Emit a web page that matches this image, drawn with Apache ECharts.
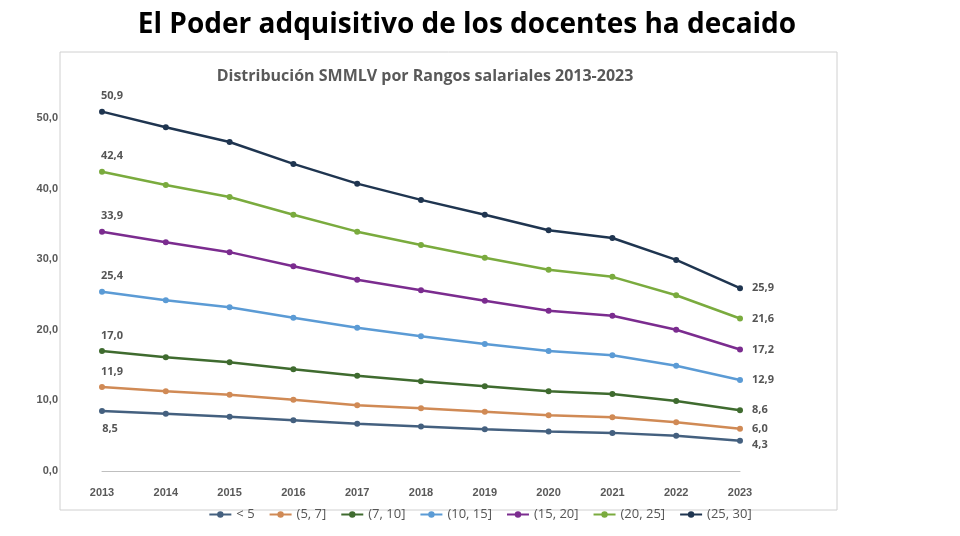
<!DOCTYPE html>
<html><head><meta charset="utf-8">
<script src="https://cdn.jsdelivr.net/npm/echarts@6/dist/echarts.min.js"></script>
<style>html,body{margin:0;background:#fff}#c{width:960px;height:536px}</style>
</head><body><div id="c"></div>
<script>
const years = ['2013','2014','2015','2016','2017','2018','2019','2020','2021','2022','2023'];
const names = ['< 5','(5, 7]','(7, 10]','(10, 15]','(15, 20]','(20, 25]','(25, 30]'];
const colors = ['#44607f','#d08a55','#3f6b2f','#5b9bd5','#7b2c8f','#7aab3e','#1f3550'];
const lt5   = [8.5,8.1,7.7,7.2,6.7,6.3,5.9,5.6,5.4,5.0,4.3];
const r5_7  = [11.9,11.3,10.8,10.1,9.3,8.9,8.4,7.9,7.6,6.9,6.0];
const r7_10 = [17.0,16.1,15.4,14.4,13.5,12.7,12.0,11.3,10.9,9.9,8.6];
const r10_15= [25.4,24.2,23.2,21.7,20.3,19.1,18.0,17.0,16.4,14.9,12.9];
const r15_20= [33.9,32.4,31.0,29.0,27.1,25.6,24.1,22.7,22.0,20.0,17.2];
const r20_25= [42.4,40.5,38.8,36.3,33.9,32.0,30.2,28.5,27.5,24.9,21.6];
const r25_30= [50.9,48.7,46.6,43.5,40.7,38.4,36.3,34.1,33.0,29.9,25.9];
const all = [lt5,r5_7,r7_10,r10_15,r15_20,r20_25,r25_30];
const fmt = v => v.toFixed(1).replace('.',',');
const series = all.map((arr,si)=>({
  name: names[si], type:'line', symbol:'circle', symbolSize:6, clip:false,
  lineStyle:{width:2.5}, itemStyle:{color:colors[si]},
  data: arr.map((v,i)=>{
    if(i===0) return {value:v,label:{show:true,position: si===0?'bottom':'top',offset: si===0?[8,4]:[10,-2],formatter:fmt(v)}};
    if(i===arr.length-1) return {value:v,label:{show:true,position:'right',offset: si===0?[4,4]:[4,0],formatter:fmt(v)}};
    return v;
  }),
  label:{color:'#555',fontWeight:'bold',fontSize:11,fontFamily:'Open Sans'}
}));
const chart = echarts.init(document.getElementById('c'));
chart.setOption({
  animation:false,
  color:colors,
  title:[
    {text:'El Poder adquisitivo de los docentes ha decaido',left:462,top:6,textAlign:'center',
     textStyle:{fontSize:28,fontWeight:'bold',color:'#000',fontFamily:'Open Sans'}},
    {text:'Distribución SMMLV por Rangos salariales 2013-2023',left:420,top:63,textAlign:'center',
     textStyle:{fontSize:16,fontWeight:'bold',color:'#595959',fontFamily:'Open Sans'}}
  ],
  graphic:[{type:'rect',shape:{x:60,y:52,width:777,height:458},style:{fill:'none',stroke:'#d0d0d0',lineWidth:1},silent:true}],
  legend:{bottom:10,left:'center',itemWidth:22,itemHeight:8,itemGap:14,
    textStyle:{fontSize:13,color:'#555',fontFamily:'Open Sans'},data:names},
  grid:{left:102,right:220,top:118,bottom:65},
  xAxis:{type:'category',data:years,boundaryGap:false,
    axisLine:{lineStyle:{color:'#bfbfbf'}},axisTick:{show:false},
    axisLabel:{color:'#595959',fontSize:11,fontWeight:'bold',margin:16}},
  yAxis:{type:'value',min:0,max:50,interval:10,splitLine:{show:false},
    axisLabel:{color:'#595959',fontSize:11,fontWeight:'bold',margin:44,formatter:v=>fmt(v)}},
  series
});
</script></body></html>
